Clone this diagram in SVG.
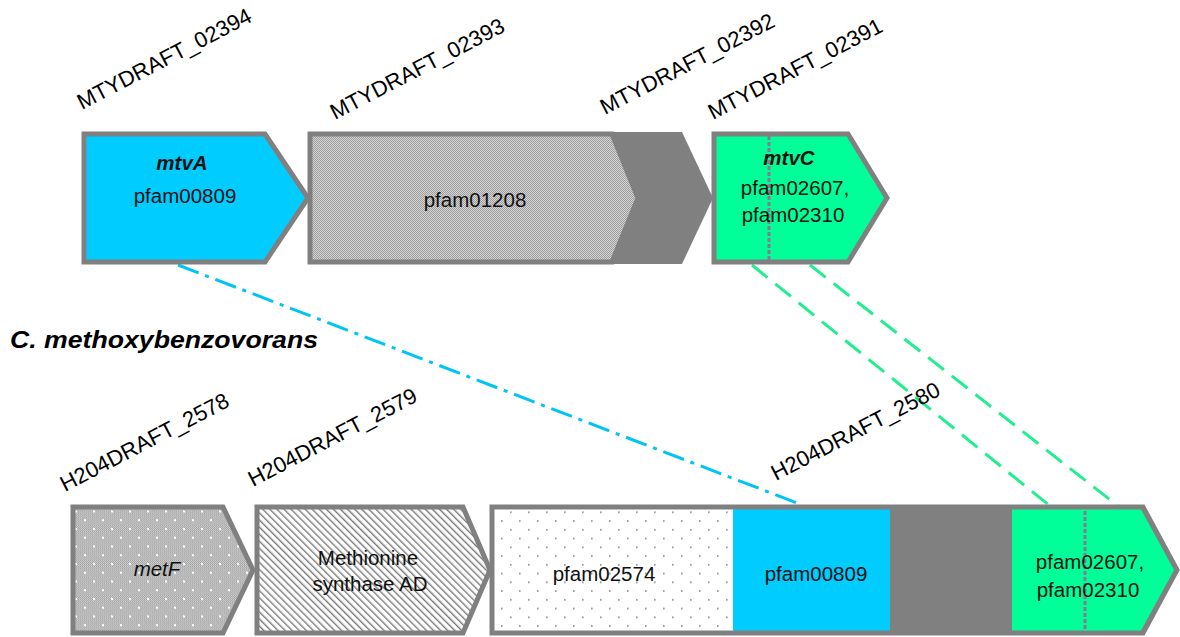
<svg xmlns="http://www.w3.org/2000/svg" width="1180" height="637" viewBox="0 0 1180 637">
  <style>
    .lbl { font-family: "Liberation Sans", Arial, sans-serif; font-size: 22px; fill: #000; }
    .in { font-family: "Liberation Sans", Arial, sans-serif; font-size: 20.5px; fill: #111; text-anchor: middle; }
    .gene { font-weight: bold; font-style: italic; }
    .frame { stroke: #808080; stroke-width: 5; stroke-linejoin: miter; }
    .div { stroke: #8a7a8a; stroke-width: 3; stroke-dasharray: 4 2; fill: none; }
    .blue { fill: #00ccff; }
    .green { fill: #00ff99; }
  </style>
  <defs>
    <!-- fine grey checker -->
    <pattern id="checker" width="2" height="2" patternUnits="userSpaceOnUse">
      <rect width="2" height="2" fill="#d6d6d6"/>
      <rect width="1" height="1" fill="#9c9c9c"/>
      <rect x="1" y="1" width="1" height="1" fill="#9c9c9c"/>
    </pattern>
    <!-- grey checker with staggered white dots -->
    <pattern id="checkerDots" width="18" height="17.5" patternUnits="userSpaceOnUse">
      <rect width="18" height="17.5" fill="url(#checker)"/>
      <rect x="3" y="3" width="2" height="2" fill="#fff"/>
      <rect x="12" y="11.75" width="2" height="2" fill="#fff"/>
    </pattern>
    <!-- diagonal hatch, falling left to right -->
    <pattern id="hatch" width="5" height="5" patternUnits="userSpaceOnUse" patternTransform="rotate(-45)">
      <rect width="5" height="5" fill="#fff"/>
      <rect x="0" width="1.4" height="5" fill="#7a7a7a"/>
    </pattern>
    <!-- sparse dots on white -->
    <pattern id="sparse" width="18" height="17.5" patternUnits="userSpaceOnUse">
      <rect width="18" height="17.5" fill="#fff"/>
      <rect x="6" y="4" width="1.6" height="1.6" fill="#8a8a8a"/>
      <rect x="15" y="12.75" width="1.6" height="1.6" fill="#8a8a8a"/>
    </pattern>
  </defs>

  <!-- connectors between homologous regions -->
  <g id="connectors" fill="none" stroke-width="3">
    <line x1="178" y1="265" x2="797" y2="503" stroke="#00c4f4" stroke-dasharray="22 7 4 7"/>
    <line x1="752" y1="265" x2="1050" y2="506" stroke="#22ee90" stroke-dasharray="20 10"/>
    <line x1="810" y1="265" x2="1118" y2="506" stroke="#22ee90" stroke-dasharray="20 10"/>
  </g>

  <!-- top locus -->
  <g id="MTYDRAFT_02394">
    <polygon class="frame blue" points="84,134 265,134 308,198 265,262 84,262"/>
    <text class="in gene" x="182" y="170">mtvA</text>
    <text class="in" x="185" y="203">pfam00809</text>
    <text class="lbl" transform="translate(82,110) rotate(-27.5)">MTYDRAFT_02394</text>
  </g>

  <g id="MTYDRAFT_02392">
    <polygon fill="#808080" points="562,132 682,132 713,198 682,264 562,264"/>
    <text class="lbl" transform="translate(605,115) rotate(-27.5)">MTYDRAFT_02392</text>
  </g>

  <g id="MTYDRAFT_02393">
    <polygon class="frame" fill="url(#checker)" points="310,134 612,134 638,198 612,262 310,262"/>
    <text class="in" x="475" y="207">pfam01208</text>
    <text class="lbl" transform="translate(335,120) rotate(-27.5)">MTYDRAFT_02393</text>
  </g>

  <g id="MTYDRAFT_02391">
    <polygon class="frame green" points="714,134 848,134 887,198 848,262 714,262"/>
    <line class="div" x1="769" y1="136" x2="769" y2="260"/>
    <text class="in gene" x="789" y="165">mtvC</text>
    <text class="in" x="795" y="195">pfam02607,</text>
    <text class="in" x="793" y="222">pfam02310</text>
    <text class="lbl" transform="translate(713,120) rotate(-27.5)">MTYDRAFT_02391</text>
  </g>

  <text id="organism" x="10" y="348" font-family="Liberation Sans, Arial, sans-serif" font-size="24" font-weight="bold" font-style="italic" textLength="308" lengthAdjust="spacingAndGlyphs">C. methoxybenzovorans</text>

  <!-- bottom locus -->
  <g id="H204DRAFT_2578">
    <polygon class="frame" fill="url(#checkerDots)" points="73,507 223,507 253,570 223,633 73,633"/>
    <text class="in" x="157" y="576" font-style="italic">metF</text>
    <text class="lbl" transform="translate(65,492) rotate(-27.5)">H204DRAFT_2578</text>
  </g>

  <g id="H204DRAFT_2579">
    <polygon class="frame" fill="url(#hatch)" points="257,507 463,507 490,570 463,633 257,633"/>
    <text class="in" x="368" y="565">Methionine</text>
    <text class="in" x="370" y="591">synthase AD</text>
    <text class="lbl" transform="translate(253,487) rotate(-27.5)">H204DRAFT_2579</text>
  </g>

  <g id="H204DRAFT_2580">
    <polygon class="frame" fill="#808080" points="492,507 1143,507 1177,570 1143,633 492,633"/>
    <rect x="494.5" y="509.5" width="239" height="121" fill="url(#sparse)"/>
    <rect class="blue" x="733" y="509.5" width="157" height="121"/>
    <polygon class="green" points="1012,509.5 1141,509.5 1174,570 1141,630.5 1012,630.5"/>
    <line class="div" x1="1085" y1="511" x2="1085" y2="630"/>
    <text class="in" x="604" y="581">pfam02574</text>
    <text class="in" x="816" y="581">pfam00809</text>
    <text class="in" x="1090" y="569">pfam02607,</text>
    <text class="in" x="1088" y="597">pfam02310</text>
    <text class="lbl" transform="translate(776,481) rotate(-27.5)">H204DRAFT_2580</text>
  </g>
</svg>
